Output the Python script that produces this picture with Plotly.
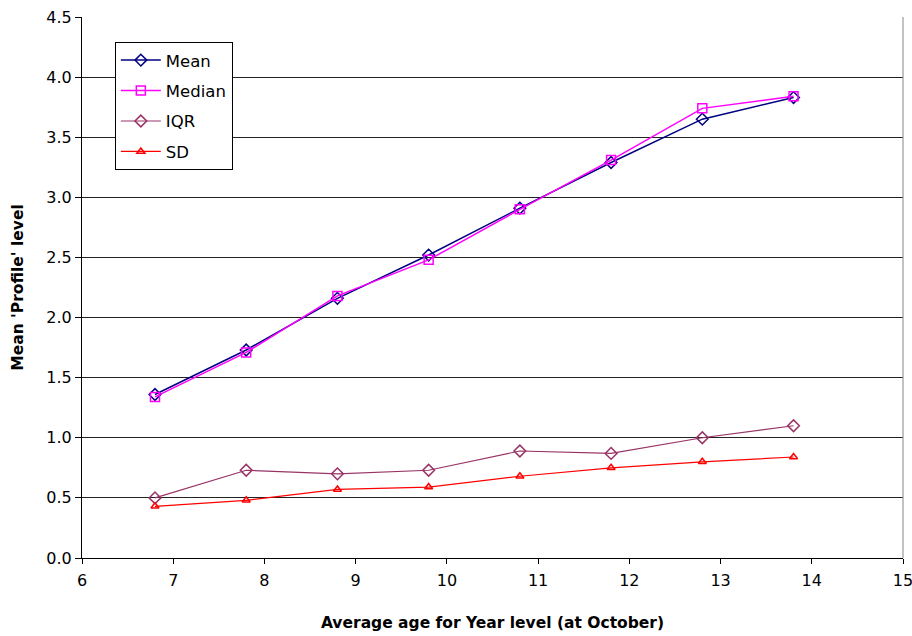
import plotly.graph_objects as go

# Average age for each Year level (at October)
ages = [6.8, 7.8, 8.8, 9.8, 10.8, 11.8, 12.8, 13.8]

# Summary statistics of 'Profile' level per Year level
mean_vals = [1.36, 1.73, 2.16, 2.52, 2.91, 3.29, 3.65, 3.83]
median_vals = [1.34, 1.71, 2.18, 2.48, 2.90, 3.31, 3.74, 3.84]
iqr_vals = [0.50, 0.73, 0.70, 0.73, 0.89, 0.87, 1.00, 1.10]
sd_vals = [0.43, 0.48, 0.57, 0.59, 0.68, 0.75, 0.80, 0.84]

x_ticks = list(range(6, 16))
y_ticks = [0.0, 0.5, 1.0, 1.5, 2.0, 2.5, 3.0, 3.5, 4.0, 4.5]

FONT = "DejaVu Sans, Arial, sans-serif"

series = [
    ("Mean", mean_vals, "#000080", "diamond-open", 9, 1.5),
    ("Median", median_vals, "#FF00FF", "square-open", 9, 1.5),
    ("IQR", iqr_vals, "#993366", "diamond-open", 9, 1.2),
    ("SD", sd_vals, "#FF0000", "triangle-up-open", 7, 1.2),
]

fig = go.Figure()
for name, vals, color, symbol, msize, lw in series:
    fig.add_trace(go.Scatter(
        x=ages, y=vals, name=name, mode="lines+markers",
        legendgroup=name,
        line=dict(color=color, width=lw),
        marker=dict(symbol=symbol, size=msize, color=color,
                    line=dict(color=color, width=1.5)),
    ))

fig.update_layout(
    width=912, height=636,
    margin=dict(l=82, r=9, t=17, b=78),
    paper_bgcolor="white", plot_bgcolor="white",
    font=dict(family=FONT, size=16, color="black"),
    showlegend=True,
    legend=dict(
        x=0.040, y=0.954, xanchor="left", yanchor="top",
        bordercolor="black", borderwidth=1, bgcolor="white",
        font=dict(family=FONT, size=16.5, color="black"),
        tracegroupgap=6, itemwidth=40,
    ),
    xaxis=dict(
        range=[6, 15], tickvals=x_ticks, ticktext=[str(v) for v in x_ticks],
        showgrid=False, zeroline=False, automargin=False,
        ticklabeloverflow="allow", ticklabelstandoff=3,
        showline=True, linecolor="black", linewidth=1,
        ticks="outside", ticklen=5, tickcolor="black",
        tickfont=dict(size=16),
        title=dict(text="<b>Average age for Year level (at October)</b>",
                   font=dict(size=15.5), standoff=27),
    ),
    yaxis=dict(
        range=[0, 4.5], tickvals=y_ticks, ticktext=[f"{v:.1f}" for v in y_ticks],
        showgrid=True, gridcolor="#222222", gridwidth=1, zeroline=False,
        automargin=False, ticklabeloverflow="allow",
        showline=True, linecolor="black", linewidth=1,
        ticks="outside", ticklen=6, tickcolor="black",
        tickfont=dict(size=16),
        title=dict(text="<b>Mean 'Profile' level</b>",
                   font=dict(size=15.5), standoff=18),
    ),
)

# Right border of the plot area
fig.add_shape(type="line", xref="paper", yref="paper", x0=1, x1=1, y0=0, y1=1,
              line=dict(color="#888888", width=1))

fig.write_html("out.html")
